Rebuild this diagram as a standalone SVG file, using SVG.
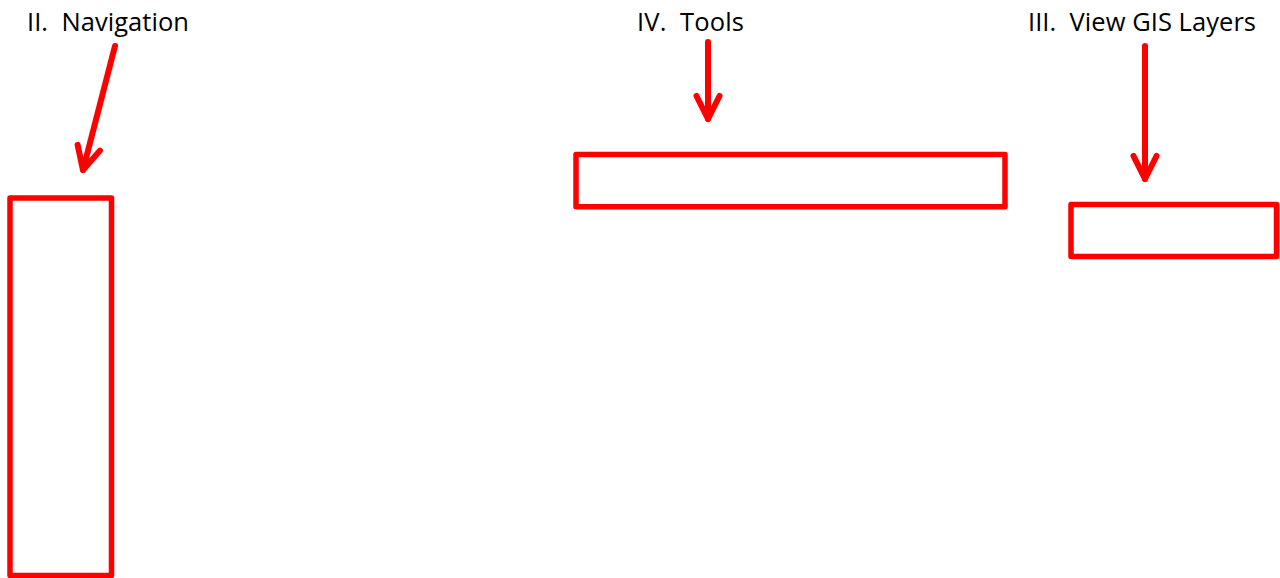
<svg xmlns="http://www.w3.org/2000/svg" width="1280" height="578" viewBox="0 0 1280 578">
  <style>
    .label { font-family: "Open Sans", "Liberation Sans", sans-serif; font-size: 25.5px; fill: #000; white-space: pre; }
    .box { fill: none; stroke: #ff0000; stroke-width: 5.5; stroke-linejoin: round; }
    .arrow { fill: none; stroke: #ff0000; stroke-width: 6; stroke-linecap: round; marker-end: url(#vhead); }
  </style>
  <defs>
    <!-- open V arrowhead, drawn in user units along the line direction -->
    <marker id="vhead" markerUnits="userSpaceOnUse" viewBox="-30 -16 34 32" markerWidth="34" markerHeight="32" refX="0" refY="0" orient="auto" overflow="visible">
      <path d="M -23 -11.5 L 0 0 L -23 11.5" fill="none" stroke="#ff0000" stroke-width="6" stroke-linecap="round" stroke-linejoin="round"/>
    </marker>
  </defs>
  <rect width="1280" height="578" fill="#ffffff"/>

  <g id="navigation">
    <text class="label" x="27" y="31" textLength="162">II.  Navigation</text>
    <rect class="box" x="10" y="198" width="101.5" height="377.5"/>
  </g>

  <g id="tools">
    <text class="label" x="637" y="31" textLength="107">IV.  Tools</text>
    <rect class="box" x="576" y="154.5" width="429" height="52.2"/>
  </g>

  <g id="gis-layers">
    <text class="label" x="1028" y="31" textLength="228">III.  View GIS Layers</text>
    <rect class="box" x="1071" y="204.5" width="205.5" height="52"/>
  </g>

  <g id="connectors">
    <line class="arrow" x1="115" y1="46" x2="83" y2="170"/>
    <line class="arrow" x1="708" y1="42" x2="708" y2="119"/>
    <line class="arrow" x1="1145" y1="46" x2="1145" y2="179"/>
  </g>
</svg>
